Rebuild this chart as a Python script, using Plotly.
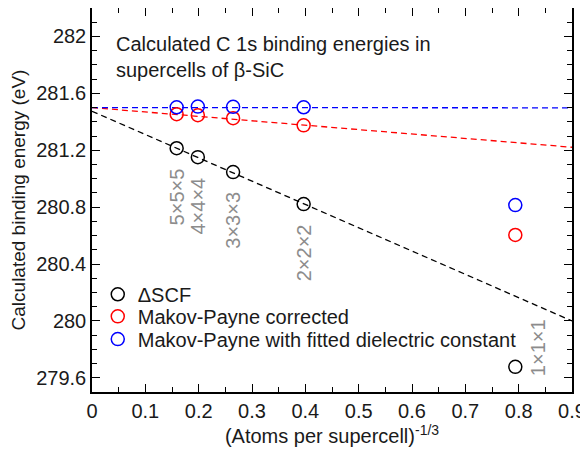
import plotly.graph_objects as go

# Data
supercells = ["5×5×5", "4×4×4", "3×3×3", "2×2×2", "1×1×1"]
atoms_per_cell = [250, 128, 54, 16, 2]
x_vals = [n ** (-1.0 / 3.0) for n in atoms_per_cell]
dscf = [281.214, 281.151, 281.046, 280.821, 279.677]
mp_corrected = [281.453, 281.446, 281.425, 281.375, 280.604]
mp_fitted = [281.502, 281.507, 281.505, 281.502, 280.814]

# Linear extrapolation fits (intercept, slope)
fit_dscf = (281.474, -1.638)
fit_mp = (281.500, -0.310)
fit_mpf = (281.500, -0.002)
fit_x = [0.0, 0.9]

y_tickvals = [279.6, 280.0, 280.4, 280.8, 281.2, 281.6, 282.0]
y_ticktext = ["279.6", "280", "280.4", "280.8", "281.2", "281.6", "282"]
x_tickvals = [0, 0.1, 0.2, 0.3, 0.4, 0.5, 0.6, 0.7, 0.8, 0.9]
x_ticktext = ["0", "0.1", "0.2", "0.3", "0.4", "0.5", "0.6", "0.7", "0.8", "0.9"]

FONT = "Liberation Sans, Arial, sans-serif"
TXT = "#1a1a1a"

fig = go.Figure()

series = [
    ("ΔSCF", dscf, fit_dscf, "#000000", "legend"),
    ("Makov-Payne corrected", mp_corrected, fit_mp, "#ff0000", "legend2"),
    ("Makov-Payne with fitted dielectric constant", mp_fitted, fit_mpf, "#0000ff", "legend3"),
]

for name, ys, (b, m), col, lg in series:
    fig.add_trace(go.Scatter(
        x=fit_x, y=[b + m * xx for xx in fit_x], mode="lines",
        line=dict(color=col, width=1.3, dash="6px,4px"),
        showlegend=False, hoverinfo="skip"))

for name, ys, fit, col, lg in series:
    fig.add_trace(go.Scatter(
        x=x_vals, y=ys, mode="markers", name=name, legend=lg,
        marker=dict(symbol="circle-open", size=13, color=col,
                    line=dict(color=col, width=1.5)),
        cliponaxis=False))

# Supercell labels
for i, lab in enumerate(supercells):
    if i < 4:
        fig.add_annotation(x=x_vals[i], y=dscf[i], text=lab, textangle=-90,
                           showarrow=False, xanchor="center", yanchor="top",
                           yshift=-18, font=dict(family=FONT, size=20, color="#8c8c8c"))
    else:
        fig.add_annotation(x=x_vals[i], y=dscf[i], text=lab, textangle=-90,
                           showarrow=False, xanchor="center", yanchor="middle",
                           xshift=23, yshift=19,
                           font=dict(family=FONT, size=20, color="#8c8c8c"))

fig.add_annotation(xref="paper", yref="paper", x=0.045, y=0.939,
                   text="Calculated C 1s binding energies in<br>supercells of β-SiC",
                   showarrow=False, xanchor="left", yanchor="top", align="left",
                   font=dict(family=FONT, size=20, color=TXT))

axis_common = dict(
    showline=True, linecolor="black", linewidth=1.5, mirror="allticks",
    ticks="inside", ticklen=8, tickwidth=1.2, tickcolor="black",
    showgrid=False, zeroline=False, automargin=False,
    tickfont=dict(family=FONT, size=20, color=TXT),
)

fig.update_xaxes(range=[0, 0.9], tickmode="array", tickvals=x_tickvals, ticktext=x_ticktext,
                 minor=dict(dtick=0.05, tick0=0, ticks="inside", ticklen=5, tickwidth=1.2,
                            tickcolor="black", showgrid=False),
                 title=dict(text="(Atoms per supercell)<sup>-1/3</sup>",
                            font=dict(family=FONT, size=20, color=TXT), standoff=7),
                 **axis_common)
fig.update_yaxes(range=[279.5, 282.2], tickmode="array", tickvals=y_tickvals, ticktext=y_ticktext,
                 minor=dict(dtick=0.1, tick0=279.5, ticks="inside", ticklen=5, tickwidth=1.2,
                            tickcolor="black", showgrid=False),
                 title=dict(text="Calculated binding energy (eV)",
                            font=dict(family=FONT, size=19, color=TXT), standoff=6),
                 **axis_common)

leg_common = dict(x=0.012, xanchor="left", yanchor="middle",
                  bgcolor="rgba(0,0,0,0)", borderwidth=0, itemwidth=30,
                  font=dict(family=FONT, size=20, color=TXT))

fig.update_layout(
    width=588, height=441,
    margin=dict(l=84, r=24, t=0, b=57),
    plot_bgcolor="white", paper_bgcolor="white",
    font=dict(family=FONT, size=20, color=TXT),
    legend=dict(y=0.2545, **leg_common),
    legend2=dict(y=0.197, **leg_common),
    legend3=dict(y=0.1377, **leg_common),
)

fig.write_html("out.html")
